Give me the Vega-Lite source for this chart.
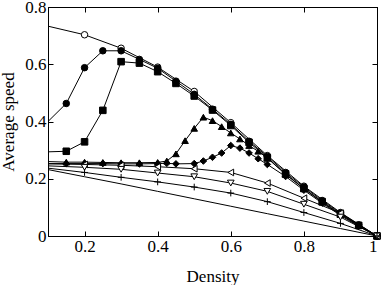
{
  "$schema": "https://vega.github.io/schema/vega-lite/v6.json",
  "width": 329,
  "height": 229,
  "autosize": "none",
  "padding": {"left": 48, "top": 7, "right": 5, "bottom": 49},
  "config": {
    "view": {"stroke": "black", "strokeWidth": 1},
    "font": "Liberation Serif",
    "axis": {
      "grid": false,
      "domainColor": "black",
      "tickColor": "black",
      "labelColor": "black",
      "titleColor": "black",
      "labelFont": "Liberation Serif",
      "titleFont": "Liberation Serif",
      "labelFontSize": 17,
      "titleFontSize": 17,
      "titleFontWeight": "normal",
      "tickSize": -5,
      "labelPadding": 7
    }
  },
  "data": {
    "values": [
      {"s": "A", "x": 0.1, "y": 0.733}, {"s": "A", "x": 0.2, "y": 0.703}, {"s": "A", "x": 0.3, "y": 0.656}, {"s": "A", "x": 0.4, "y": 0.59}, {"s": "A", "x": 0.5, "y": 0.505}, {"s": "A", "x": 0.6, "y": 0.396}, {"s": "A", "x": 0.7, "y": 0.281}, {"s": "A", "x": 0.8, "y": 0.174}, {"s": "A", "x": 0.9, "y": 0.082}, {"s": "A", "x": 1.0, "y": 0.0},

      {"s": "B", "x": 0.1, "y": 0.40}, {"s": "B", "x": 0.15, "y": 0.463}, {"s": "B", "x": 0.2, "y": 0.588}, {"s": "B", "x": 0.25, "y": 0.647}, {"s": "B", "x": 0.3, "y": 0.647}, {"s": "B", "x": 0.35, "y": 0.617}, {"s": "B", "x": 0.4, "y": 0.586}, {"s": "B", "x": 0.45, "y": 0.541}, {"s": "B", "x": 0.5, "y": 0.495}, {"s": "B", "x": 0.55, "y": 0.443}, {"s": "B", "x": 0.6, "y": 0.39}, {"s": "B", "x": 0.65, "y": 0.331}, {"s": "B", "x": 0.7, "y": 0.278}, {"s": "B", "x": 0.75, "y": 0.222}, {"s": "B", "x": 0.8, "y": 0.171}, {"s": "B", "x": 0.85, "y": 0.124}, {"s": "B", "x": 0.9, "y": 0.08}, {"s": "B", "x": 0.95, "y": 0.039}, {"s": "B", "x": 1.0, "y": 0.0},

      {"s": "C", "x": 0.1, "y": 0.294}, {"s": "C", "x": 0.15, "y": 0.296}, {"s": "C", "x": 0.2, "y": 0.329}, {"s": "C", "x": 0.25, "y": 0.439}, {"s": "C", "x": 0.3, "y": 0.609}, {"s": "C", "x": 0.35, "y": 0.604}, {"s": "C", "x": 0.4, "y": 0.574}, {"s": "C", "x": 0.45, "y": 0.533}, {"s": "C", "x": 0.5, "y": 0.489}, {"s": "C", "x": 0.55, "y": 0.44}, {"s": "C", "x": 0.6, "y": 0.386}, {"s": "C", "x": 0.65, "y": 0.327}, {"s": "C", "x": 0.7, "y": 0.273}, {"s": "C", "x": 0.75, "y": 0.217}, {"s": "C", "x": 0.8, "y": 0.166}, {"s": "C", "x": 0.85, "y": 0.12}, {"s": "C", "x": 0.9, "y": 0.077}, {"s": "C", "x": 0.95, "y": 0.037}, {"s": "C", "x": 1.0, "y": 0.0},

      {"s": "D", "x": 0.1, "y": 0.26}, {"s": "D", "x": 0.15, "y": 0.258}, {"s": "D", "x": 0.2, "y": 0.258}, {"s": "D", "x": 0.25, "y": 0.257}, {"s": "D", "x": 0.3, "y": 0.256}, {"s": "D", "x": 0.35, "y": 0.256}, {"s": "D", "x": 0.4, "y": 0.257}, {"s": "D", "x": 0.425, "y": 0.262}, {"s": "D", "x": 0.45, "y": 0.287}, {"s": "D", "x": 0.475, "y": 0.333}, {"s": "D", "x": 0.5, "y": 0.376}, {"s": "D", "x": 0.525, "y": 0.415}, {"s": "D", "x": 0.55, "y": 0.403}, {"s": "D", "x": 0.575, "y": 0.382}, {"s": "D", "x": 0.6, "y": 0.36}, {"s": "D", "x": 0.625, "y": 0.339}, {"s": "D", "x": 0.65, "y": 0.316}, {"s": "D", "x": 0.675, "y": 0.296}, {"s": "D", "x": 0.7, "y": 0.272}, {"s": "D", "x": 0.75, "y": 0.215}, {"s": "D", "x": 0.8, "y": 0.165}, {"s": "D", "x": 0.85, "y": 0.118}, {"s": "D", "x": 0.9, "y": 0.075}, {"s": "D", "x": 0.95, "y": 0.036}, {"s": "D", "x": 1.0, "y": 0.0},

      {"s": "E", "x": 0.1, "y": 0.253}, {"s": "E", "x": 0.15, "y": 0.253}, {"s": "E", "x": 0.2, "y": 0.253}, {"s": "E", "x": 0.25, "y": 0.253}, {"s": "E", "x": 0.3, "y": 0.252}, {"s": "E", "x": 0.35, "y": 0.252}, {"s": "E", "x": 0.4, "y": 0.253}, {"s": "E", "x": 0.425, "y": 0.254}, {"s": "E", "x": 0.45, "y": 0.252}, {"s": "E", "x": 0.5, "y": 0.253}, {"s": "E", "x": 0.525, "y": 0.262}, {"s": "E", "x": 0.55, "y": 0.275}, {"s": "E", "x": 0.575, "y": 0.29}, {"s": "E", "x": 0.6, "y": 0.316}, {"s": "E", "x": 0.625, "y": 0.307}, {"s": "E", "x": 0.65, "y": 0.29}, {"s": "E", "x": 0.675, "y": 0.27}, {"s": "E", "x": 0.7, "y": 0.25}, {"s": "E", "x": 0.75, "y": 0.208}, {"s": "E", "x": 0.8, "y": 0.16}, {"s": "E", "x": 0.85, "y": 0.115}, {"s": "E", "x": 0.9, "y": 0.072}, {"s": "E", "x": 0.95, "y": 0.034}, {"s": "E", "x": 1.0, "y": 0.0},

      {"s": "F", "x": 0.1, "y": 0.252}, {"s": "F", "x": 0.2, "y": 0.25}, {"s": "F", "x": 0.3, "y": 0.247}, {"s": "F", "x": 0.4, "y": 0.242}, {"s": "F", "x": 0.5, "y": 0.235}, {"s": "F", "x": 0.6, "y": 0.222}, {"s": "F", "x": 0.7, "y": 0.185}, {"s": "F", "x": 0.8, "y": 0.132}, {"s": "F", "x": 0.9, "y": 0.08}, {"s": "F", "x": 1.0, "y": 0.0},

      {"s": "G", "x": 0.1, "y": 0.245}, {"s": "G", "x": 0.2, "y": 0.24}, {"s": "G", "x": 0.3, "y": 0.233}, {"s": "G", "x": 0.4, "y": 0.22}, {"s": "G", "x": 0.5, "y": 0.207}, {"s": "G", "x": 0.6, "y": 0.185}, {"s": "G", "x": 0.7, "y": 0.156}, {"s": "G", "x": 0.8, "y": 0.111}, {"s": "G", "x": 0.9, "y": 0.066}, {"s": "G", "x": 1.0, "y": 0.0},

      {"s": "H", "x": 0.1, "y": 0.237}, {"s": "H", "x": 0.2, "y": 0.222}, {"s": "H", "x": 0.3, "y": 0.205}, {"s": "H", "x": 0.4, "y": 0.189}, {"s": "H", "x": 0.5, "y": 0.171}, {"s": "H", "x": 0.6, "y": 0.15}, {"s": "H", "x": 0.7, "y": 0.12}, {"s": "H", "x": 0.8, "y": 0.082}, {"s": "H", "x": 0.9, "y": 0.044}, {"s": "H", "x": 1.0, "y": 0.0},

      {"s": "I", "x": 0.1, "y": 0.232}, {"s": "I", "x": 0.2, "y": 0.207}, {"s": "I", "x": 0.3, "y": 0.182}, {"s": "I", "x": 0.4, "y": 0.156}, {"s": "I", "x": 0.5, "y": 0.13}, {"s": "I", "x": 0.6, "y": 0.104}, {"s": "I", "x": 0.7, "y": 0.078}, {"s": "I", "x": 0.8, "y": 0.052}, {"s": "I", "x": 0.9, "y": 0.026}, {"s": "I", "x": 1.0, "y": 0.0}
    ]
  },
  "layer": [
    {
      "mark": {"type": "line", "color": "black", "strokeWidth": 1},
      "encoding": {
        "x": {"field": "x", "type": "quantitative", "scale": {"domain": [0.1, 1], "nice": false, "zero": false},
              "axis": {"orient": "bottom", "title": "Density", "values": [0.2, 0.4, 0.6, 0.8, 1], "format": "~g", "titlePadding": 14}},
        "y": {"field": "y", "type": "quantitative", "scale": {"domain": [0, 0.8], "nice": false},
              "axis": {"orient": "left", "title": "Average speed", "values": [0, 0.2, 0.4, 0.6, 0.8], "format": "~g", "titlePadding": 7}},
        "detail": {"field": "s"},
        "order": {"field": "x", "type": "quantitative"}
      }
    },
    {
      "transform": [{"filter": "datum.s != 'I' && datum.x > 0.1"}],
      "mark": {"type": "point", "stroke": "black", "strokeWidth": 1, "opacity": 1, "filled": false},
      "encoding": {
        "x": {"field": "x", "type": "quantitative",
              "axis": {"orient": "top", "title": null, "labels": false, "values": [0.2, 0.4, 0.6, 0.8, 1]}},
        "y": {"field": "y", "type": "quantitative",
              "axis": {"orient": "right", "title": null, "labels": false, "values": [0, 0.2, 0.4, 0.6, 0.8]}},
        "shape": {"field": "s", "type": "nominal", "legend": null,
                  "scale": {"domain": ["A", "B", "C", "D", "E", "F", "G", "H"],
                            "range": ["circle", "circle", "square", "triangle-up", "diamond", "triangle-left", "triangle-down", "M-1,0H1M0,-1V1"]}},
        "fill": {"field": "s", "type": "nominal", "legend": null,
                 "scale": {"domain": ["A", "B", "C", "D", "E", "F", "G", "H"],
                           "range": ["white", "black", "black", "black", "black", "white", "white", "none"]}},
        "size": {"field": "s", "type": "nominal", "legend": null,
                 "scale": {"domain": ["A", "B", "C", "D", "E", "F", "G", "H"],
                           "range": [42, 45, 34, 44, 44, 38, 38, 44]}}
      }
    }
  ]
}
